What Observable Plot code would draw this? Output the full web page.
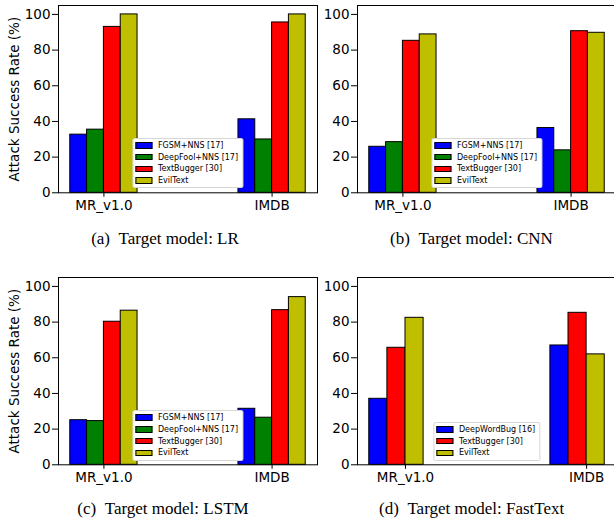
<!DOCTYPE html>
<html><head><meta charset="utf-8">
<script src="https://cdn.jsdelivr.net/npm/d3@7"></script>
<script src="https://cdn.jsdelivr.net/npm/@observablehq/plot@0.6"></script>
<style>
body{margin:0;background:#fff;}
#wrap{position:relative;width:614px;height:522px;overflow:hidden;background:#fff;}
.panel{position:absolute;width:320px;height:250px;}
.panel svg{position:absolute;left:0;top:0;overflow:visible;}
.legend{position:absolute;background:#fff;border:1px solid #d6d6d6;border-radius:2px;font-family:"DejaVu Sans";font-size:8px;color:#000;padding:1px 4px 1px 2px;transform:translateX(-50%);white-space:nowrap;}
.row{display:flex;align-items:center;height:11.7px;}
.sw{width:15px;height:4.5px;border:1px solid #000;margin-right:6px;}
.cap{position:absolute;font-family:"Liberation Serif";font-size:17px;line-height:1;transform:translateX(-50%);white-space:nowrap;color:#000;}
</style></head><body><div id="wrap"></div>
<script>
// ---- data ----
const datasets = ["MR_v1.0", "IMDB"];
const attacksA = ["FGSM+NNS [17]", "DeepFool+NNS [17]", "TextBugger [30]", "EvilText"];
const attacksD = ["DeepWordBug [16]", "TextBugger [30]", "EvilText"];
const colorsA = ["#0000ff", "#008000", "#ff0000", "#bfbf00"];
const colorsD = ["#0000ff", "#ff0000", "#bfbf00"];
const yTicks = [0, 20, 40, 60, 80, 100];
const yLabel = "Attack Success Rate (%)";
// values per attack: [MR_v1.0, IMDB]
const lrValues = [[32.6, 41.2], [35.4, 29.9], [93.0, 95.5], [100, 100]];
const cnnValues = [[25.8, 36.3], [28.4, 23.8], [85.2, 90.6], [88.8, 89.7]];
const lstmValues = [[25.0, 31.4], [24.5, 26.4], [80.2, 86.7], [86.4, 94.0]];
const fastTextValues = [[37.0, 66.9], [65.6, 85.2], [82.4, 61.9]];
const captions = ["(a)\u2002Target model: LR", "(b)\u2002Target model: CNN", "(c)\u2002Target model: LSTM", "(d)\u2002Target model: FastText"];

const wrap = document.getElementById("wrap");
const barW = 0.1;

function panel({left, top, attacks, colors, values, xDomain, showYLabel, caption, capX, capTop}) {
  const rows = [];
  attacks.forEach((a, i) => values[i].forEach((v, j) => rows.push({attack: a, series: i, ds: j, value: v})));
  const off = s => (s - 1.5) * barW;
  const div = document.createElement("div");
  div.className = "panel";
  div.style.left = left + "px";
  div.style.top = top + "px";
  const W = 320, H = 215, mL = 58, mR = 3, mT = 5, mB = 22.7;
  const marks = [
    Plot.rect(rows, {
      x1: d => d.ds + off(d.series) - barW / 2,
      x2: d => d.ds + off(d.series) + barW / 2,
      y1: 0, y2: "value", fill: "attack", stroke: "#000", strokeWidth: 1
    }),
    Plot.frame({stroke: "#000", strokeWidth: 1}),
    Plot.axisX({ticks: [0, 1], tickFormat: i => datasets[i], tickSize: 4.5, tickPadding: 3, fontSize: 13.5, label: null}),
    Plot.axisY({ticks: yTicks, tickSize: 6, tickPadding: 2, fontSize: 13.5, label: null})
  ];
  if (showYLabel) marks.push(Plot.text([yLabel], {text: d => d, frameAnchor: "left", textAnchor: "middle", lineAnchor: "middle", rotate: -90, dx: -44, fontSize: 13.5, fill: "#000"}));
  const chart = Plot.plot({
    width: W, height: H,
    marginLeft: mL, marginRight: mR, marginTop: mT, marginBottom: mB,
    style: {fontFamily: "DejaVu Sans", color: "#000", background: "transparent", overflow: "visible"},
    x: {domain: xDomain},
    y: {domain: [0, 105]},
    color: {domain: attacks, range: colors},
    marks
  });
  div.appendChild(chart);
  // legend (lower center inside the axes)
  const lg = document.createElement("div");
  lg.className = "legend";
  lg.style.left = ((mL + W - mR) / 2) + "px";
  lg.style.bottom = (250 - (H - mB) + 4) + "px";
  attacks.forEach((a, i) => {
    const r = document.createElement("div");
    r.className = "row";
    const sw = document.createElement("div");
    sw.className = "sw";
    sw.style.background = colors[i];
    const t = document.createElement("span");
    t.textContent = a;
    r.appendChild(sw); r.appendChild(t);
    lg.appendChild(r);
  });
  div.appendChild(lg);
  const cp = document.createElement("div");
  cp.className = "cap";
  cp.textContent = caption;
  cp.style.left = capX + "px";
  cp.style.top = capTop + "px";
  div.appendChild(cp);
  wrap.appendChild(div);
}

panel({left: 0, top: 0, attacks: attacksA, colors: colorsA, values: lrValues, xDomain: [-0.27, 1.27], showYLabel: true, caption: captions[0], capX: 165, capTop: 229.5});
panel({left: 299, top: 0, attacks: attacksA, colors: colorsA, values: cnnValues, xDomain: [-0.27, 1.27], showYLabel: false, caption: captions[1], capX: 172.5, capTop: 229.5});
panel({left: 0, top: 272.3, attacks: attacksA, colors: colorsA, values: lstmValues, xDomain: [-0.27, 1.27], showYLabel: true, caption: captions[2], capX: 163, capTop: 227.5});
panel({left: 299, top: 272.3, attacks: attacksD, colors: colorsD, values: fastTextValues, xDomain: [-0.265, 1.165], showYLabel: false, caption: captions[3], capX: 172.7, capTop: 227.5});
</script></body></html>
